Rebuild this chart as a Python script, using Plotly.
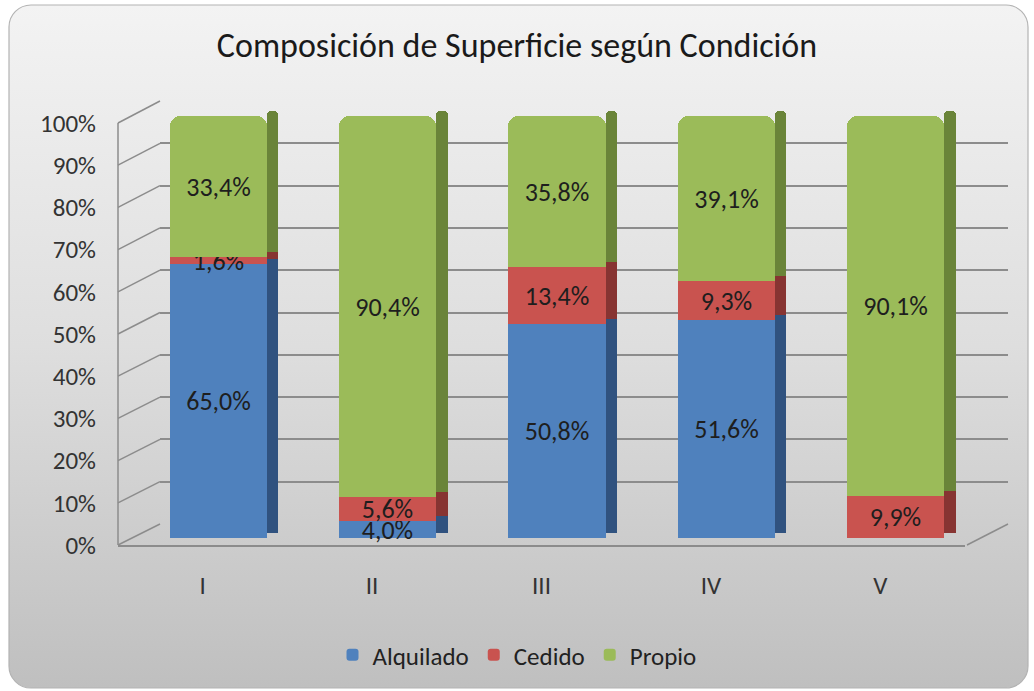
import base64
import plotly.graph_objects as go

# ---- data ----
categories = ["I", "II", "III", "IV", "V"]
alquilado = [65.0, 4.0, 50.8, 51.6, 0.0]
cedido = [1.6, 5.6, 13.4, 9.3, 9.9]
propio = [33.4, 90.4, 35.8, 39.1, 90.1]
series_names = ["Alquilado", "Cedido", "Propio"]
y_ticks = [0, 10, 20, 30, 40, 50, 60, 70, 80, 90, 100]
y_tick_text = [f"{v}%" for v in y_ticks]

front_colors = ["#4F81BD", "#C9534F", "#9BBB59"]
side_colors = ["#30527F", "#873432", "#6A8439"]

W, H = 1034, 691
FONT = "Carlito, Calibri, Lato, sans-serif"

def px_x(p):
    return p / W

def px_y(p):
    return (H - p) / H

# front plane (axis labels / floor edge)
fx0, fx1 = 118, 965
fy0, fy1 = 545, 123  # pixel for 0 and 100
top_px = 105         # plot area extends above 100% so bar tops are not clipped
# back wall
bx0, bx1 = 160, 1008
by0, by1 = 524, 101

ppu = (fy0 - fy1) / 100.0
bar_shift = 7 / ppu     # bars sit a little behind the front plane
side_shift = 12 / ppu   # side faces rise towards the back
span = (fy0 - top_px) / ppu

def fmt(v):
    return (f"{v:.1f}%").replace(".", ",") if v > 0 else ""

fig = go.Figure()

fig.add_trace(go.Scatter(x=[0], y=[0], mode="markers", marker=dict(opacity=0),
                         hoverinfo="skip", showlegend=False, xaxis="x", yaxis="y"))

all_series = [alquilado, cedido, propio]
bar_w = 0.573
bar_off = -0.195
side_w = 0.068

for name, vals, fc in zip(series_names, all_series, front_colors):
    fig.add_trace(go.Bar(
        x=categories, y=vals, name=name,
        marker=dict(color=fc, line=dict(width=0), cornerradius=10),
        width=bar_w, offset=bar_off,
        text=[fmt(v) for v in vals], textposition="inside",
        insidetextanchor="middle", textangle=0, constraintext="none",
        textfont=dict(family=FONT, size=26, color="#1e1e1e"),
        xaxis="x2", yaxis="y2", hoverinfo="skip",
    ))

for name, vals, sc in zip(series_names, all_series, side_colors):
    fig.add_trace(go.Bar(
        x=categories, y=vals, name=name + " side",
        marker=dict(color=sc, line=dict(width=0), cornerradius=4),
        width=side_w, offset=bar_off + bar_w,
        showlegend=False, xaxis="x2", yaxis="y3", hoverinfo="skip",
    ))

svg = f'''<svg xmlns="http://www.w3.org/2000/svg" width="{W}" height="{H}" viewBox="0 0 {W} {H}" preserveAspectRatio="none">
<defs><linearGradient id="g" x1="0" y1="0" x2="0" y2="1">
<stop offset="0" stop-color="#f3f3f3"/><stop offset="0.5" stop-color="#dedede"/><stop offset="1" stop-color="#bfbfbf"/></linearGradient></defs>
<rect x="9" y="5" width="1019" height="683" rx="22" ry="22" fill="url(#g)" stroke="#b3b3b3" stroke-width="1.2"/>
</svg>'''
src = "data:image/svg+xml;base64," + base64.b64encode(svg.encode()).decode()

grid_line = dict(color="#8c8c8c", width=1.5)
shapes = []
for v in y_ticks:
    yf = px_y(fy0 - v * ppu)
    yb = px_y(by0 - v * (by0 - by1) / 100.0)
    shapes.append(dict(type="line", xref="paper", yref="paper",
                       x0=px_x(fx0), y0=yf, x1=px_x(bx0), y1=yb,
                       line=grid_line, layer="below"))
# front-left edge of the side wall
shapes.append(dict(type="line", xref="paper", yref="paper",
                   x0=px_x(fx0), y0=px_y(fy0), x1=px_x(fx0), y1=px_y(fy1),
                   line=grid_line, layer="below"))
# right edge of the floor
shapes.append(dict(type="line", xref="paper", yref="paper",
                   x0=px_x(967), y0=px_y(fy0), x1=px_x(bx1), y1=px_y(by0),
                   line=grid_line, layer="below"))

fig.update_layout(
    width=W, height=H,
    margin=dict(l=0, r=0, t=0, b=0, pad=0, autoexpand=False),
    paper_bgcolor="white", plot_bgcolor="rgba(0,0,0,0)",
    barmode="stack", bargap=0,
    separators=",.",
    font=dict(family=FONT, color="#333333"),
    images=[dict(source=src, xref="paper", yref="paper", x=0, y=1,
                 sizex=1, sizey=1, xanchor="left", yanchor="top",
                 sizing="stretch", layer="below")],
    shapes=shapes,
    title=dict(text="Composición de Superficie según Condición",
               x=0.5, xanchor="center", y=px_y(45), yanchor="middle",
               font=dict(family=FONT, size=34, color="#1a1a1a")),
    legend=dict(orientation="h", x=0.5, xanchor="center", y=px_y(655), yanchor="middle",
                font=dict(family=FONT, size=25, color="#222222"),
                bgcolor="rgba(0,0,0,0)", traceorder="normal", itemwidth=30),
    xaxis=dict(domain=[px_x(bx0), px_x(bx1)], range=[0, 1], visible=False,
               anchor="y", fixedrange=True),
    yaxis=dict(domain=[px_y(by0), px_y(by1)], range=[0, 100], anchor="x",
               tickvals=y_ticks, showticklabels=False, showgrid=True,
               gridcolor="#8c8c8c", gridwidth=1.5, zeroline=False, showline=False),
    xaxis2=dict(domain=[px_x(fx0), px_x(fx1)], anchor="y2", type="category",
                categoryorder="array", categoryarray=categories,
                range=[-0.5, 4.5], showgrid=False, showline=True,
                linecolor="#8c8c8c", linewidth=1.5,
                ticks="outside", ticklen=17, tickcolor="rgba(0,0,0,0)",
                tickfont=dict(family=FONT, size=25, color="#333333")),
    yaxis2=dict(domain=[px_y(fy0), px_y(top_px)], anchor="x2",
                range=[-bar_shift, span - bar_shift],
                tickmode="array", tickvals=[v - bar_shift for v in y_ticks],
                ticktext=y_tick_text,
                showgrid=False, zeroline=False, showline=False,
                ticks="outside", ticklen=16, tickcolor="rgba(0,0,0,0)",
                tickfont=dict(family=FONT, size=25, color="#333333")),
    yaxis3=dict(overlaying="y2", anchor="x2", range=[-side_shift, span - side_shift],
                visible=False),
)

fig.write_html("out.html", config={"displayModeBar": False},
               post_script="document.body.style.margin='0';")
